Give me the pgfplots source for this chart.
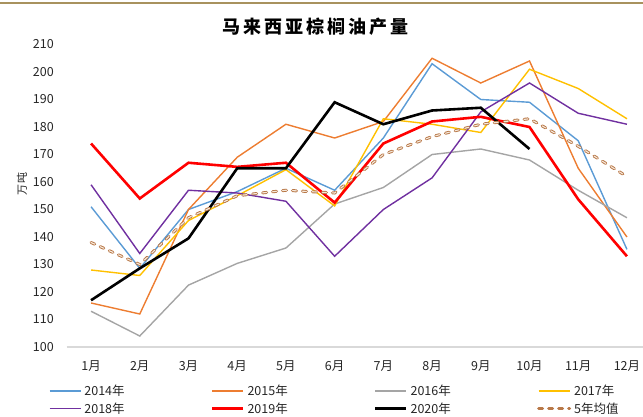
\documentclass[border=0pt]{standalone}
\usepackage{pgfplots}
\pgfplotsset{compat=1.18}
\usepackage{fontspec}
\setmainfont{Noto Sans CJK SC}
\definecolor{c14}{RGB}{91,155,213}
\definecolor{c15}{RGB}{237,125,49}
\definecolor{c16}{RGB}{165,165,165}
\definecolor{c17}{RGB}{255,192,0}
\definecolor{c18}{RGB}{112,48,160}
\definecolor{c19}{RGB}{255,0,0}
\definecolor{c5y}{RGB}{184,120,72}
\definecolor{c5yin}{RGB}{246,232,218}
\definecolor{topline}{RGB}{168,146,94}
\definecolor{axisgray}{RGB}{217,217,217}
\begin{document}
\begin{tikzpicture}[x=1bp,y=1bp]
\useasboundingbox (0,0) rectangle (643,416);
\draw[topline, line width=2bp] (0,412.6) -- (643,412.6);
\node[font=\fontsize{18bp}{20bp}\selectfont\bfseries] at (315.5,389.5) {马\hspace{3bp}来\hspace{3bp}西\hspace{3bp}亚\hspace{3bp}棕\hspace{3bp}榈\hspace{3bp}油\hspace{3bp}产\hspace{3bp}量};
\node[rotate=90, font=\fontsize{11bp}{12bp}\selectfont, text=black!85] at (22,232.5) {万\hspace{1bp}吨};
\begin{axis}[
  at={(66.7bp,69bp)}, anchor=south west,
  scale only axis, width=576.3bp, height=302.5bp,
  xmin=0.5, xmax=12.33, ymin=100, ymax=210,
  xtick={1,...,12},
  xticklabels={1月,2月,3月,4月,5月,6月,7月,8月,9月,10月,11月,12月},
  ytick={100,110,...,210},
  axis lines*=left,
  y axis line style={draw=none},
  x axis line style={axisgray, line width=1.5bp},
  major tick length=0pt,
  /pgf/number format/assume math mode=true,
  tick label style={font=\fontsize{12.5bp}{14bp}\selectfont, text=black!85},
  yticklabel style={anchor=east, inner sep=0pt, xshift=-12.7bp},
  xticklabel style={anchor=center, inner sep=0pt, yshift=-19bp},
  clip=false,
  legend columns=4,
  legend cell align=left,
  legend style={at={(-0.0307,-0.125)}, anchor=north west, draw=none, fill=none,
    inner sep=0pt, outer sep=0pt, row sep=5.6bp, column sep=0pt,
    font=\fontsize{12.5bp}{14bp}\selectfont, text=black!85,
    nodes={inner sep=0pt}},
  legend image code/.code={\draw[#1] (0bp,0bp) -- (31bp,0bp);},
]
\addplot[c14, line width=1.4bp] coordinates {(1,151) (2,128.6) (3,150) (4,156.5) (5,165) (6,157) (7,176) (8,203) (9,190) (10,189) (11,175) (12,135.5)};
\addlegendentry{\makebox[129.5bp][l]{\hspace{3bp}2014年}}
\addplot[c15, line width=1.4bp] coordinates {(1,116) (2,112) (3,150) (4,169) (5,181) (6,176) (7,182) (8,205) (9,196) (10,204) (11,165) (12,140)};
\addlegendentry{\makebox[129.5bp][l]{\hspace{3bp}2015年}}
\addplot[c16, line width=1.4bp] coordinates {(1,113) (2,104) (3,122.5) (4,130.4) (5,136) (6,152) (7,158) (8,170) (9,172) (10,168) (11,157) (12,147)};
\addlegendentry{\makebox[129.5bp][l]{\hspace{3bp}2016年}}
\addplot[c17, line width=1.4bp] coordinates {(1,128) (2,126) (3,146) (4,155) (5,164.5) (6,151.3) (7,183) (8,181) (9,178) (10,201) (11,194) (12,183)};
\addlegendentry{\makebox[129.5bp][l]{\hspace{3bp}2017年}}
\addplot[c18, line width=1.4bp] coordinates {(1,159) (2,134) (3,157) (4,156) (5,153) (6,133) (7,150) (8,161.5) (9,185.5) (10,196) (11,185) (12,181)};
\addlegendentry{\makebox[129.5bp][l]{\hspace{3bp}2018年}}
\addplot[c19, line width=2.6bp] coordinates {(1,174) (2,154) (3,167) (4,165.5) (5,167) (6,152.5) (7,174) (8,182) (9,183.7) (10,180) (11,153.7) (12,133)};
\addlegendentry{\makebox[129.5bp][l]{\hspace{3bp}2019年}}
\addplot[black, line width=2.6bp] coordinates {(1,117) (2,128.6) (3,139.5) (4,165) (5,165) (6,189) (7,181) (8,186) (9,187) (10,172)};
\addlegendentry{\makebox[129.5bp][l]{\hspace{3bp}2020年}}
\addplot[c5y, line width=3bp, line cap=round, dash pattern=on 4bp off 6bp] coordinates {(1,138) (2,130) (3,147) (4,155) (5,157) (6,156) (7,170) (8,176.5) (9,181) (10,183) (11,173) (12,162)};
\addlegendentry{\makebox[60bp][l]{\hspace{3bp}5年均值}}
\addplot[c5yin, line width=1.1bp, line cap=round, dash pattern=on 4bp off 6bp, forget plot] coordinates {(1,138) (2,130) (3,147) (4,155) (5,157) (6,156) (7,170) (8,176.5) (9,181) (10,183) (11,173) (12,162)};
\end{axis}
\end{tikzpicture}
\end{document}
